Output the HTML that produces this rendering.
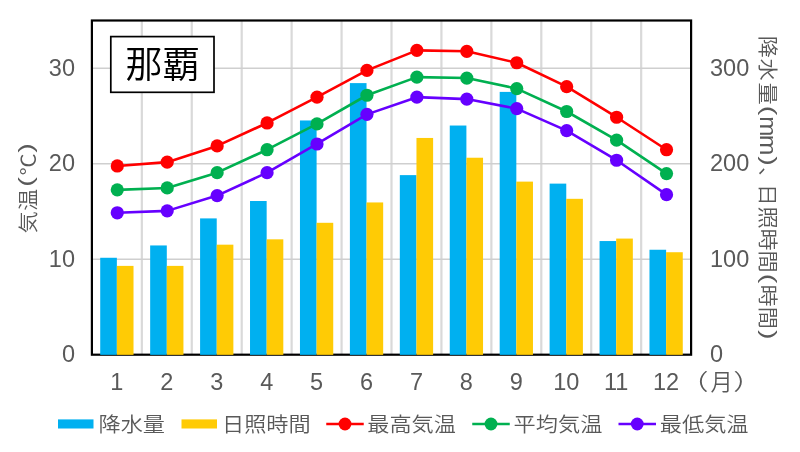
<!DOCTYPE html>
<html lang="ja"><head><meta charset="utf-8"><title>那覇 気温・降水量・日照時間</title>
<style>html,body{margin:0;padding:0;background:#fff}body{width:800px;height:452px;overflow:hidden}svg{display:block}text{font-family:"Liberation Sans","Noto Sans CJK JP",sans-serif;font-size:23.50px;fill:#595959}.jp text,text.jp{font-size:22.20px;font-weight:350}</style></head><body>
<svg width="800" height="452" viewBox="0 0 800 452">
<rect width="800" height="452" fill="#fff"/>
<g stroke="#d9d9d9" stroke-width="2.2">
<line x1="141.83" y1="20.50" x2="141.83" y2="354.70"/>
<line x1="191.77" y1="20.50" x2="191.77" y2="354.70"/>
<line x1="241.70" y1="20.50" x2="241.70" y2="354.70"/>
<line x1="291.63" y1="20.50" x2="291.63" y2="354.70"/>
<line x1="341.57" y1="20.50" x2="341.57" y2="354.70"/>
<line x1="391.50" y1="20.50" x2="391.50" y2="354.70"/>
<line x1="441.43" y1="20.50" x2="441.43" y2="354.70"/>
<line x1="491.37" y1="20.50" x2="491.37" y2="354.70"/>
<line x1="541.30" y1="20.50" x2="541.30" y2="354.70"/>
<line x1="591.23" y1="20.50" x2="591.23" y2="354.70"/>
<line x1="641.17" y1="20.50" x2="641.17" y2="354.70"/>
</g>
<g stroke="#cfcfcf" stroke-width="1.6">
<line x1="91.90" y1="259.30" x2="691.10" y2="259.30"/>
<line x1="91.90" y1="163.75" x2="691.10" y2="163.75"/>
<line x1="91.90" y1="68.20" x2="691.10" y2="68.20"/>
</g>
<rect x="91.90" y="20.50" width="599.20" height="334.20" fill="none" stroke="#000" stroke-width="2.2"/>
<g fill="#00b0f0">
<rect x="100.22" y="257.77" width="16.64" height="97.08"/>
<rect x="150.16" y="245.45" width="16.64" height="109.40"/>
<rect x="200.09" y="218.40" width="16.64" height="136.45"/>
<rect x="250.02" y="201.01" width="16.64" height="153.84"/>
<rect x="299.96" y="120.47" width="16.64" height="234.38"/>
<rect x="349.89" y="83.11" width="16.64" height="271.74"/>
<rect x="399.82" y="175.12" width="16.64" height="179.73"/>
<rect x="449.76" y="125.53" width="16.64" height="229.32"/>
<rect x="499.69" y="91.90" width="16.64" height="262.95"/>
<rect x="549.62" y="183.62" width="16.64" height="171.23"/>
<rect x="599.56" y="241.05" width="16.64" height="113.80"/>
<rect x="649.49" y="249.75" width="16.64" height="105.10"/>
</g>
<g fill="#ffcb05">
<rect x="116.87" y="265.89" width="16.64" height="88.96"/>
<rect x="166.80" y="265.89" width="16.64" height="88.96"/>
<rect x="216.73" y="244.68" width="16.64" height="110.17"/>
<rect x="266.67" y="239.33" width="16.64" height="115.52"/>
<rect x="316.60" y="222.80" width="16.64" height="132.05"/>
<rect x="366.53" y="202.45" width="16.64" height="152.40"/>
<rect x="416.47" y="137.95" width="16.64" height="216.90"/>
<rect x="466.40" y="157.73" width="16.64" height="197.12"/>
<rect x="516.33" y="181.62" width="16.64" height="173.23"/>
<rect x="566.27" y="198.82" width="16.64" height="156.03"/>
<rect x="616.20" y="238.57" width="16.64" height="116.28"/>
<rect x="666.13" y="252.23" width="16.64" height="102.62"/>
</g>
<polyline fill="none" stroke="#ff0000" stroke-width="2.6" stroke-linejoin="round" points="117.27,165.96 167.20,162.14 217.13,145.90 267.07,122.96 317.00,97.17 366.93,70.41 416.87,50.35 466.80,51.30 516.73,62.77 566.67,86.65 616.60,117.23 666.53,149.72"/>
<g fill="#ff0000"><circle cx="117.27" cy="165.96" r="6.6"/><circle cx="167.20" cy="162.14" r="6.6"/><circle cx="217.13" cy="145.90" r="6.6"/><circle cx="267.07" cy="122.96" r="6.6"/><circle cx="317.00" cy="97.17" r="6.6"/><circle cx="366.93" cy="70.41" r="6.6"/><circle cx="416.87" cy="50.35" r="6.6"/><circle cx="466.80" cy="51.30" r="6.6"/><circle cx="516.73" cy="62.77" r="6.6"/><circle cx="566.67" cy="86.65" r="6.6"/><circle cx="616.60" cy="117.23" r="6.6"/><circle cx="666.53" cy="149.72" r="6.6"/></g>
<polyline fill="none" stroke="#00b050" stroke-width="2.6" stroke-linejoin="round" points="117.27,189.85 167.20,187.94 217.13,172.65 267.07,149.72 317.00,123.92 366.93,95.25 416.87,77.10 466.80,78.06 516.73,88.57 566.67,111.50 616.60,140.16 666.53,173.61"/>
<g fill="#00b050"><circle cx="117.27" cy="189.85" r="6.6"/><circle cx="167.20" cy="187.94" r="6.6"/><circle cx="217.13" cy="172.65" r="6.6"/><circle cx="267.07" cy="149.72" r="6.6"/><circle cx="317.00" cy="123.92" r="6.6"/><circle cx="366.93" cy="95.25" r="6.6"/><circle cx="416.87" cy="77.10" r="6.6"/><circle cx="466.80" cy="78.06" r="6.6"/><circle cx="516.73" cy="88.57" r="6.6"/><circle cx="566.67" cy="111.50" r="6.6"/><circle cx="616.60" cy="140.16" r="6.6"/><circle cx="666.53" cy="173.61" r="6.6"/></g>
<polyline fill="none" stroke="#6600ff" stroke-width="2.6" stroke-linejoin="round" points="117.27,212.78 167.20,210.87 217.13,195.58 267.07,172.65 317.00,143.98 366.93,114.36 416.87,97.17 466.80,99.08 516.73,108.63 566.67,130.61 616.60,160.23 666.53,194.63"/>
<g fill="#6600ff"><circle cx="117.27" cy="212.78" r="6.6"/><circle cx="167.20" cy="210.87" r="6.6"/><circle cx="217.13" cy="195.58" r="6.6"/><circle cx="267.07" cy="172.65" r="6.6"/><circle cx="317.00" cy="143.98" r="6.6"/><circle cx="366.93" cy="114.36" r="6.6"/><circle cx="416.87" cy="97.17" r="6.6"/><circle cx="466.80" cy="99.08" r="6.6"/><circle cx="516.73" cy="108.63" r="6.6"/><circle cx="566.67" cy="130.61" r="6.6"/><circle cx="616.60" cy="160.23" r="6.6"/><circle cx="666.53" cy="194.63" r="6.6"/></g>
<rect x="110.8" y="36.6" width="103.2" height="55.7" fill="#fff" stroke="#000" stroke-width="1.7"/>
<text class="jp" x="162.6" y="78.3" text-anchor="middle" style="font-size:37.33px;fill:#000;font-weight:350">那覇</text>
<text x="75" y="362.15" text-anchor="end">0</text>
<text x="75" y="266.60" text-anchor="end">10</text>
<text x="75" y="171.05" text-anchor="end">20</text>
<text x="75" y="75.50" text-anchor="end">30</text>
<text x="710" y="362.15">0</text>
<text x="710" y="266.60">100</text>
<text x="710" y="171.05">200</text>
<text x="710" y="75.50">300</text>
<text x="116.87" y="390.3" text-anchor="middle">1</text>
<text x="166.80" y="390.3" text-anchor="middle">2</text>
<text x="216.73" y="390.3" text-anchor="middle">3</text>
<text x="266.67" y="390.3" text-anchor="middle">4</text>
<text x="316.60" y="390.3" text-anchor="middle">5</text>
<text x="366.53" y="390.3" text-anchor="middle">6</text>
<text x="416.47" y="390.3" text-anchor="middle">7</text>
<text x="466.40" y="390.3" text-anchor="middle">8</text>
<text x="516.33" y="390.3" text-anchor="middle">9</text>
<text x="566.27" y="390.3" text-anchor="middle">10</text>
<text x="616.20" y="390.3" text-anchor="middle">11</text>
<text x="666.13" y="390.3" text-anchor="middle">12</text>
<g class="jp" transform="translate(0,390.2)"><text transform="translate(679.84,0) scale(1.297,1)">（</text><text x="710.57" y="0">月</text><text transform="translate(733.36,0) scale(1.297,1)">）</text></g>
<g class="jp" transform="translate(35.66,300) rotate(-90) scale(1,0.92)"><text x="66.45" y="0">気</text><text x="89.10" y="0">温</text><text transform="translate(113.22,-2.66) scale(1.300,1)">(</text><text x="124.45" y="0">℃</text><text transform="translate(147.26,-2.66) scale(1.300,1)">)</text></g>
<g class="jp" transform="translate(759.9,0) rotate(90) scale(1,0.92)"><text x="35.81" y="0">降</text><text x="58.50" y="0">水</text><text x="82.40" y="0">量</text><text transform="translate(105.82,-2.66) scale(1.300,1)">(</text><text transform="translate(116.30,0) scale(1.094,1.15)">m</text><text transform="translate(134.77,0) scale(1.113,1.15)">m</text><text transform="translate(156.26,-2.66) scale(1.300,1)">)</text><text x="166.91" y="0">、</text><text x="183.69" y="0">日</text><text x="206.55" y="0">照</text><text x="228.56" y="0">時</text><text x="250.49" y="0">間</text><text transform="translate(273.67,-2.66) scale(1.300,1)">(</text><text x="284.51" y="0">時</text><text x="306.64" y="0">間</text><text transform="translate(330.06,-2.66) scale(1.300,1)">)</text></g>
<rect x="58" y="419.4" width="35.5" height="9.1" fill="#00b0f0"/>
<text class="jp" transform="translate(98.50,432.35) scale(1,0.93)">降水量</text>
<rect x="181.5" y="419.4" width="35.5" height="9.1" fill="#ffcb05"/>
<text class="jp" transform="translate(222.00,432.35) scale(1,0.93)">日照時間</text>
<line x1="326.25" y1="424.0" x2="363.75" y2="424.0" stroke="#ff0000" stroke-width="2.7"/>
<circle cx="345.00" cy="424.0" r="6.4" fill="#ff0000"/>
<text class="jp" transform="translate(367.20,432.35) scale(1,0.93)">最高気温</text>
<line x1="472.25" y1="424.0" x2="509.75" y2="424.0" stroke="#00b050" stroke-width="2.7"/>
<circle cx="491.00" cy="424.0" r="6.4" fill="#00b050"/>
<text class="jp" transform="translate(513.60,432.35) scale(1,0.93)">平均気温</text>
<line x1="618.50" y1="424.0" x2="656.00" y2="424.0" stroke="#6600ff" stroke-width="2.7"/>
<circle cx="637.25" cy="424.0" r="6.4" fill="#6600ff"/>
<text class="jp" transform="translate(659.80,432.35) scale(1,0.93)">最低気温</text>
</svg></body></html>
